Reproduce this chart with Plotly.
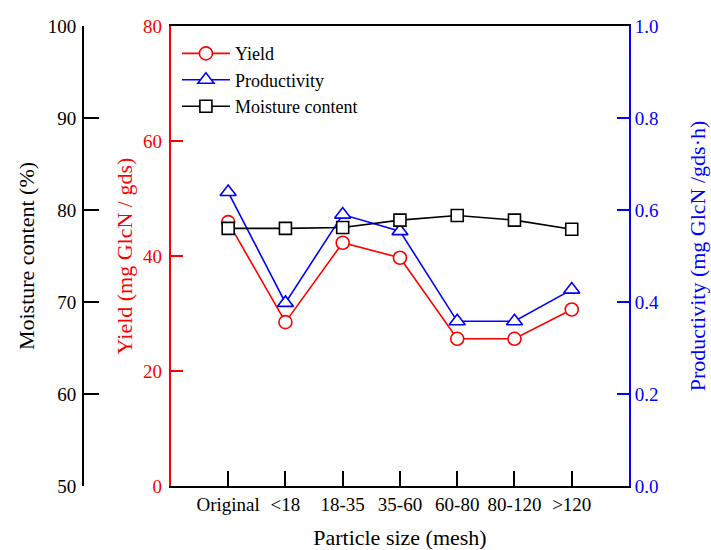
import plotly.graph_objects as go

categories = ["Original", "<18", "18-35", "35-60", "60-80", "80-120", ">120"]
yield_vals = [45.9, 28.5, 42.3, 39.7, 25.6, 25.6, 30.7]
productivity_vals = [0.639, 0.398, 0.590, 0.554, 0.358, 0.358, 0.427]
moisture_vals = [78.0, 78.0, 78.1, 78.9, 79.4, 78.9, 77.9]

yield_ticks = [0, 20, 40, 60, 80]
prod_ticks = [0.0, 0.2, 0.4, 0.6, 0.8, 1.0]
moist_ticks = [50, 60, 70, 80, 90, 100]

FONT = "Liberation Serif, Times New Roman, serif"
xpos = list(range(len(categories)))

fig = go.Figure()
fig.add_trace(go.Scatter(
    x=xpos, y=yield_vals, name="Yield", mode="lines+markers",
    line=dict(color="red", width=1.6),
    marker=dict(symbol="circle", size=13, color="white", line=dict(color="red", width=1.6)),
    yaxis="y",
))
fig.add_trace(go.Scatter(
    x=xpos, y=productivity_vals, name="Productivity", mode="lines+markers",
    line=dict(color="blue", width=1.6),
    marker=dict(symbol="triangle-up", size=14, color="white", line=dict(color="blue", width=1.6)),
    yaxis="y2",
))
fig.add_trace(go.Scatter(
    x=xpos, y=moisture_vals, name="Moisture content", mode="lines+markers",
    line=dict(color="black", width=1.6),
    marker=dict(symbol="square", size=12, color="white", line=dict(color="black", width=1.6)),
    yaxis="y3",
))

fig.update_layout(
    width=711, height=550,
    margin=dict(l=83, r=82, t=26, b=64),
    paper_bgcolor="white", plot_bgcolor="white",
    font=dict(family=FONT, size=19, color="black"),
    showlegend=True,
    legend=dict(x=0.172, y=0.98, xanchor="left", yanchor="top",
                bgcolor="rgba(0,0,0,0)", font=dict(size=18, family=FONT),
                tracegroupgap=0, itemwidth=48),
    xaxis=dict(
        domain=[0.161, 1.0], range=[-1, 7],
        tickmode="array", tickvals=xpos, ticktext=categories,
        ticks="inside", ticklen=15, tickwidth=1.5, tickcolor="black",
        showline=True, linecolor="black", linewidth=2, mirror=True,
        showgrid=False, zeroline=False, automargin=False,
        tickfont=dict(size=19, family=FONT),
        title=dict(text="Particle size (mesh)", font=dict(size=22, family=FONT), standoff=19),
    ),
    yaxis=dict(
        range=[0, 80], tickmode="array", tickvals=yield_ticks,
        ticks="inside", ticklen=12, tickwidth=2, tickcolor="red",
        showline=True, linecolor="red", linewidth=2,
        showgrid=False, zeroline=False, automargin=False,
        ticklabelstandoff=3,
        tickfont=dict(color="red", size=19, family=FONT),
        title=dict(text="Yield (mg GlcN / gds)", font=dict(color="red", size=22, family=FONT), standoff=4),
        anchor="x",
    ),
    yaxis2=dict(
        range=[0, 1.0], tickmode="array", tickvals=prod_ticks,
        ticktext=[f"{v:.1f}" for v in prod_ticks],
        ticks="inside", ticklen=12, tickwidth=2, tickcolor="blue",
        showline=True, linecolor="blue", linewidth=2,
        showgrid=False, zeroline=False, automargin=False,
        tickfont=dict(color="blue", size=19, family=FONT),
        title=dict(text="Productivity (mg GlcN /gds·h)", font=dict(color="blue", size=22, family=FONT), standoff=32),
        overlaying="y", side="right", anchor="x",
    ),
    yaxis3=dict(
        range=[50, 100], tickmode="array", tickvals=moist_ticks,
        ticks="inside", ticklen=15, tickwidth=2, tickcolor="black",
        showline=True, linecolor="black", linewidth=2,
        showgrid=False, zeroline=False, automargin=False,
        ticklabelstandoff=2,
        tickfont=dict(color="black", size=19, family=FONT),
        title=dict(text="Moisture content (%)", font=dict(color="black", size=22, family=FONT), standoff=6),
        overlaying="y", side="left", anchor="free", position=0,
    ),
)

fig.write_html("out.html", config={"displayModeBar": False},
               post_script="document.body.style.margin='0';")
